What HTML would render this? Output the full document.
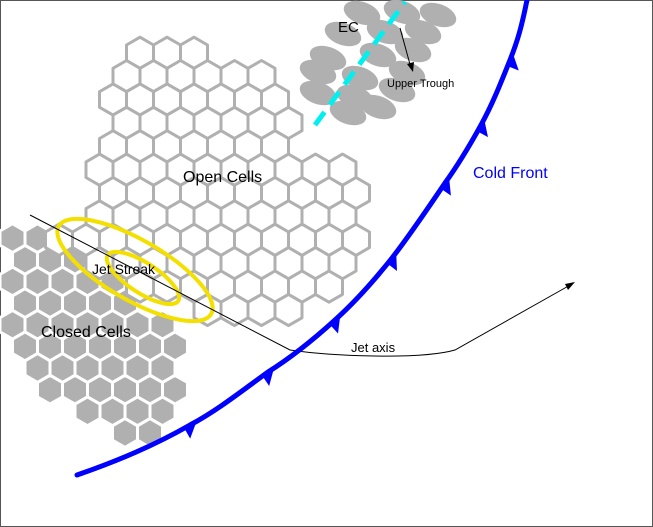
<!DOCTYPE html>
<html><head><style>body{margin:0;background:#fff}svg{display:block}</style></head><body>
<svg id="s" width="653" height="527" xmlns="http://www.w3.org/2000/svg" font-family="Liberation Sans, sans-serif">
<rect x="0.5" y="0.5" width="652" height="526" fill="#fff" stroke="#555"/>
<g id="closed" fill="#b0b0b0" stroke="#fff" stroke-width="3" stroke-linejoin="round"></g>
<g id="open" fill="#fff" stroke="#b0b0b0" stroke-width="3" stroke-linejoin="round"></g>
<g id="ec" fill="#b0b0b0"></g>
<line x1="315" y1="125" x2="405" y2="2" stroke="#00f0f0" stroke-width="5" stroke-dasharray="16,9"/>
<line x1="400" y1="28" x2="411" y2="68" stroke="#000" stroke-width="1"/>
<polygon points="407,64 413,72 414,62" fill="#000"/>
<text x="338" y="32" font-size="15">EC</text>
<text x="387" y="87" font-size="11">Upper Trough</text>
<ellipse cx="135" cy="270" rx="88" ry="30" transform="rotate(30 135 270)" fill="none" stroke="#f4e000" stroke-width="4"/>
<ellipse cx="143" cy="278" rx="42" ry="15" transform="rotate(33 143 278)" fill="none" stroke="#f4e000" stroke-width="4"/>
<path d="M30,215 L290,350 C330,356 420,360 455,350 L572,284" fill="none" stroke="#000" stroke-width="1"/>
<polygon points="575,282 565,284 568,290" fill="#000"/>
<path id="front" d="M527,0 C522,25 518,40 510,60 C500,85 492,105 481,125 C470,145 458,165 445,183 C428,208 410,235 392,258 C373,282 355,302 335,320 C313,340 292,357 268,372 C243,390 218,410 190,425 C155,445 120,460 77,475" fill="none" stroke="#0000ff" stroke-width="5" stroke-linecap="round"/>
<g id="tri" fill="#0000ff"></g>
<text x="473" y="178" font-size="16" fill="#0000ff">Cold Front</text>
<text x="183" y="182" font-size="16">Open Cells</text>
<text x="92" y="274" font-size="14">Jet Streak</text>
<text x="41" y="337" font-size="16">Closed Cells</text>
<text x="351" y="352" font-size="13">Jet axis</text>
</svg>
<script>
function inside(p,x,y){let c=false;for(let i=0,j=p.length-1;i<p.length;j=i++){let a=p[i],b=p[j];if((a[1]>y)!=(b[1]>y)&&x<(b[0]-a[0])*(y-a[1])/(b[1]-a[1])+a[0])c=!c;}return c;}
function hex(cx,cy,r){let s=[];for(let k=0;k<6;k++){let a=Math.PI/3*k+Math.PI/6;s.push((cx+r*Math.cos(a)).toFixed(1)+','+(cy+r*Math.sin(a)).toFixed(1));}return s.join(' ');}
function grid(id,poly,pitch,r,ox,oy){let g=document.getElementById(id),h='';let dy=pitch*0.866;for(let row=0;row<40;row++){let y=row*dy+oy;for(let col=-2;col<40;col++){let x=col*pitch+(row%2?pitch/2:0)+ox;if(inside(poly,x,y))h+='<polygon points="'+hex(x,y,r)+'"/>';}}g.innerHTML=h;}
grid('closed',[[8,238],[45,232],[100,268],[178,335],[182,370],[172,425],[130,445],[95,430],[30,385],[5,330]],25,14.4,0,0);
grid('open',[[140,50],[170,45],[270,70],[290,115],[300,150],[345,160],[365,195],[362,245],[345,285],[300,312],[260,332],[215,322],[175,300],[110,285],[55,240],[75,215],[92,190],[95,140],[112,100],[128,70]],27,15.6,5,6);
let ec=document.getElementById('ec'),e='';
[[362,13],[402,12],[438,15],[343,34],[385,32],[423,32],[328,58],[378,55],[413,50],[318,72],[360,78],[407,73],[318,93],[355,97],[397,90],[348,113],[378,107]].forEach(p=>{e+='<ellipse cx="'+p[0]+'" cy="'+p[1]+'" rx="19" ry="11" transform="rotate(20 '+p[0]+' '+p[1]+')"/>';});
ec.innerHTML=e;
let f=document.getElementById('front'),L=f.getTotalLength(),t='';
[[510,60],[481,125],[445,183],[392,258],[335,320],[268,372],[190,425]].forEach(q=>{
 let best=0,bd=1e9;for(let l=0;l<L;l+=1){let p=f.getPointAtLength(l);let d=(p.x-q[0])**2+(p.y-q[1])**2;if(d<bd){bd=d;best=l;}}
 let a=f.getPointAtLength(best-7),b=f.getPointAtLength(best+7);
 let dx=b.x-a.x,dy=b.y-a.y,n=Math.hypot(dx,dy);dx/=n;dy/=n;
 let nx=-dy,ny=dx; if(nx<0){nx=-nx;ny=-ny;}
 let c={x:b.x+nx*12,y:b.y+ny*12};
 t+='<polygon points="'+a.x+','+a.y+' '+b.x+','+b.y+' '+c.x+','+c.y+'"/>';});
document.getElementById('tri').innerHTML=t;
</script>
</body></html>
